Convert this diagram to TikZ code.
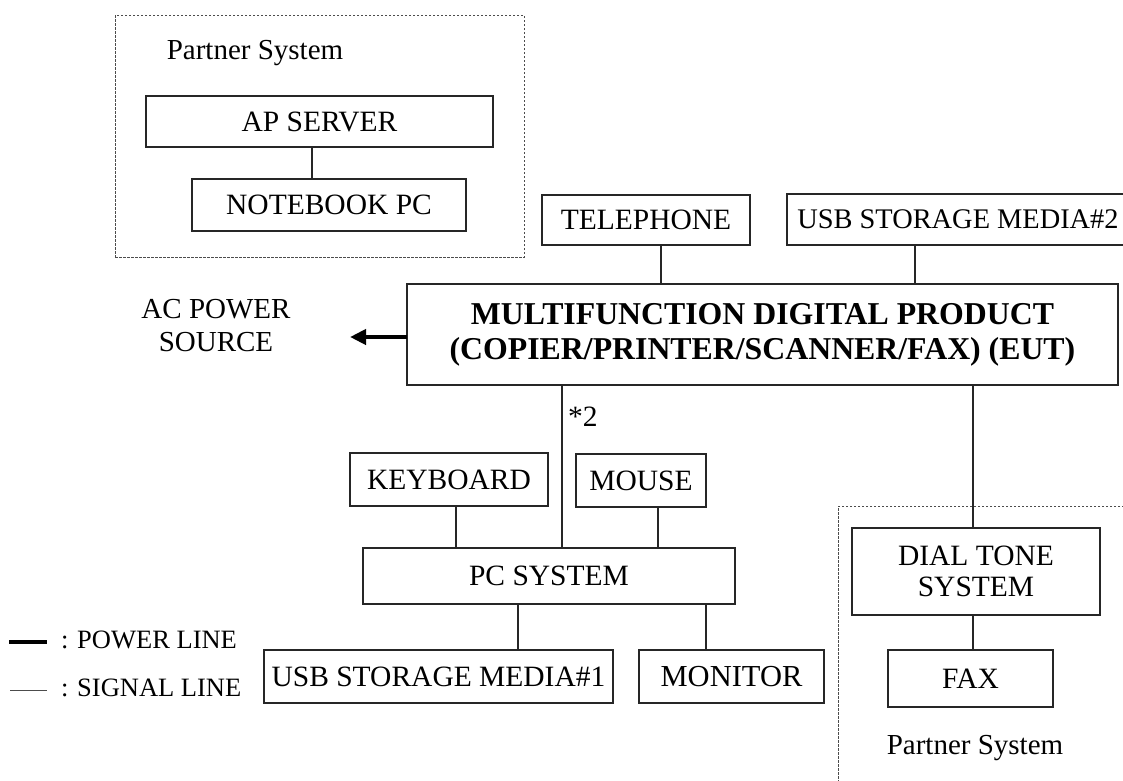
\documentclass[tikz,border=0pt]{standalone}
\usepackage{fontspec}
\setmainfont{Liberation Serif}
\usetikzlibrary{arrows.meta}

\begin{document}
\begin{tikzpicture}[x=1pt,y=-1pt,
  every node/.style={inner sep=0pt,outer sep=0pt,font=\fontsize{29.5}{31}\selectfont},
  unit/.style={draw=black!85,line width=1.2pt,minimum width=#1,align=center},
  groupbox/.style={draw=black!70,line width=1pt,dash pattern=on 2.5pt off 1.5pt},
  signal/.style={draw=black!85,line width=1.1pt},
  power/.style={draw=black,line width=4pt},
  label/.style={align=center,font=\fontsize{29}{33}\selectfont},
  legend/.style={anchor=west,font=\fontsize{26.5}{29}\selectfont}]

\useasboundingbox (0,0) rectangle (1123,780);
\clip (0,0) rectangle (1123,780);

% ---- partner system (application server side) ----
\node[groupbox,minimum width=409pt,minimum height=242pt] (psA) at (319.5,136) {};
\node[label] (psAlbl) at (255,53) {Partner System};
\node[unit=347pt,minimum height=51pt] (aps) at (319.5,121.5) {AP SERVER};
\node[unit=274pt,minimum height=52pt] (nbpc) at (329,205) {NOTEBOOK PC};
\draw[signal] (aps.south -| 312,0) -- (nbpc.north -| 312,0);

% ---- equipment under test and its peripherals ----
\node[unit=208pt,minimum height=50pt] (tel) at (646,220) {TELEPHONE};
\node[unit=342pt,minimum height=51pt,font=\fontsize{28.4}{31}\selectfont] (usbB) at (958,219.5) {USB STORAGE MEDIA\#2};
\node[unit=711pt,minimum height=101pt,font=\fontsize{31.8}{35}\selectfont\bfseries] (mfp) at (762.5,334.5)
  {MULTIFUNCTION DIGITAL PRODUCT\\(COPIER/PRINTER/SCANNER/FAX) (EUT)};
\draw[signal] (tel.south -| 661,0) -- (mfp.north -| 661,0);
\draw[signal] (usbB.south -| 915,0) -- (mfp.north -| 915,0);

% ---- mains supply ----
\node[label] (ac) at (216,326) {AC POWER\\SOURCE};
\coordinate (acend) at (350,337);
\draw[power,-{Triangle[length=16pt,width=15pt]}] (mfp.west |- acend) -- (acend);

% ---- PC system ----
\node[unit=198pt,minimum height=53pt] (kb) at (449,479.5) {KEYBOARD};
\node[unit=130pt,minimum height=53pt] (mouse) at (641,480.5) {MOUSE};
\node[unit=372pt,minimum height=56pt] (pc) at (549,576) {PC SYSTEM};
\node[unit=349pt,minimum height=53pt] (usbA) at (438.5,676.5) {USB STORAGE MEDIA\#1};
\node[unit=185pt,minimum height=53pt,font=\fontsize{30.5}{33}\selectfont] (mon) at (731.5,676.5) {MONITOR};
\draw[signal] (mfp.south -| 562,0) -- (pc.north -| 562,0);
\node[anchor=west] (note) at (568,417) {*2};
\draw[signal] (kb.south -| 456,0) -- (pc.north -| 456,0);
\draw[signal] (mouse.south -| 658,0) -- (pc.north -| 658,0);
\draw[signal] (pc.south -| 518,0) -- (usbA.north -| 518,0);
\draw[signal] (pc.south -| 706,0) -- (mon.north -| 706,0);

% ---- partner system (telephone line side) ----
\node[groupbox,minimum width=312pt,minimum height=294pt] (psB) at (994,653) {};
\node[unit=248pt,minimum height=87pt] (dial) at (976,571.5) {DIAL TONE\\SYSTEM};
\node[unit=165pt,minimum height=57pt] (fax) at (970.5,678.5) {FAX};
\node[label] (psBlbl) at (975,748) {Partner System};
\draw[signal] (mfp.south -| 973,0) -- (dial.north -| 973,0);
\draw[signal] (dial.south -| 973,0) -- (fax.north -| 973,0);

% ---- legend ----
\coordinate (pwA) at (9,642);
\coordinate (pwB) at (47,642);
\coordinate (sgA) at (10,690);
\coordinate (sgB) at (47,690);
\draw[power] (pwA) -- (pwB);
\draw[signal,line width=0.9pt,draw=black!70] (sgA) -- (sgB);
\node[legend] (pwlbl) at (61,640) {: POWER LINE};
\node[legend] (sglbl) at (61,688) {: SIGNAL LINE};
\end{tikzpicture}
\end{document}
